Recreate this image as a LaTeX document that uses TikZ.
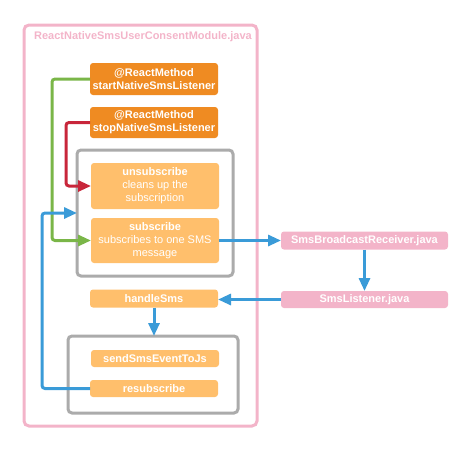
\documentclass[tikz,border=0pt]{standalone}
\usepackage{fontspec}
\setmainfont{Liberation Sans}
\usepackage{tikz}
\usetikzlibrary{arrows.meta}
\definecolor{darkorange}{HTML}{EF8B22}
\definecolor{lightorange}{HTML}{FFBF6C}
\definecolor{softpink}{HTML}{F3B4C9}
\definecolor{groupgray}{HTML}{ABABAB}
\definecolor{lineblue}{HTML}{3A9BD8}
\definecolor{linegreen}{HTML}{7AB648}
\definecolor{linered}{HTML}{C8263A}

\begin{document}
\begin{tikzpicture}[
x=1pt, y=-1pt,
font=\fontsize{11}{13}\selectfont,
     M/.style = {rectangle, rounded corners=3pt, fill=darkorange,% method boxes
                 text=white, font=\fontsize{11}{13}\selectfont\bfseries,
                 align=center, inner sep=0pt, outer sep=0pt,
                 minimum width=128pt, minimum height=32pt},
     S/.style = {rectangle, rounded corners=3pt, fill=lightorange,% inner steps
                 text=white, align=center, inner sep=0pt, outer sep=0pt,
                 minimum width=128pt},
     P/.style = {rectangle, rounded corners=3pt, fill=softpink,% other java files
                 text=white, font=\fontsize{11}{13}\selectfont\bfseries,
                 inner sep=0pt, outer sep=0pt,
                 minimum width=167pt, minimum height=18pt},
     G/.style = {rectangle, rounded corners=4pt, draw=groupgray,% groups
                 line width=3pt, inner sep=0pt, outer sep=0pt},
     C/.style = {line width=3pt, rounded corners=3pt,% connectors
                 -{Triangle[length=13pt,width=11pt]}},
                        ]
\useasboundingbox (0,0) rectangle (474,451);
% module frame
\node[rectangle, rounded corners=5pt, draw=softpink, line width=3pt,
      inner sep=0pt, outer sep=0pt,
      minimum width=233pt, minimum height=401pt] (module) at (140.5,225.5) {};
\node[text=softpink, font=\fontsize{11}{13}\selectfont\bfseries] (title) at (143,37)
     {ReactNativeSmsUserConsentModule.java};
% methods
\node[M] (start) at (154,79) {@ReactMethod\\startNativeSmsListener};
\node[M, minimum height=31pt] (stop) at (154,122.5) {@ReactMethod\\stopNativeSmsListener};
% listener group
\node[G, minimum width=156pt, minimum height=126pt] (listen) at (155,213) {};
\node[S, minimum height=46pt] (unsub) at (155,186)
     {\textbf{unsubscribe}\\cleans up the\\subscription};
\node[S, minimum height=45pt] (sub) at (155,240.5)
     {\textbf{subscribe}\\subscribes to one SMS\\message};
\node[S, minimum height=18pt, font=\fontsize{11}{13}\selectfont\bfseries] (handle) at (154,298.5) {handleSms};
% handler group
\node[G, minimum width=170pt, minimum height=77pt] (react) at (153,374.5) {};
\node[S, minimum height=17pt, font=\fontsize{11}{13}\selectfont\bfseries] (send) at (155,358.5) {sendSmsEventToJs};
\node[S, minimum height=17pt, font=\fontsize{11}{13}\selectfont\bfseries] (resub) at (154,388.5) {resubscribe};
% java files
\node[P] (receiver) at (364.5,240.5) {SmsBroadcastReceiver.java};
\node[P, minimum height=17pt] (listener) at (364.5,299.5) {SmsListener.java};
% connectors
\draw[C, linegreen] (start.west) -- ++(-38,0) |- (sub.west);
\draw[C, linered] (stop.west) -- ++(-24,0) |- (unsub.west);
\draw[C, lineblue] (resub.west) -- ++(-48,0) |- (listen.west);
\draw[C, lineblue] (sub.east) -- (receiver.west);
\draw[C, lineblue] (receiver.south) -- (listener.north);
\draw[C, lineblue] (listener.west) -- (listener.west -| handle.east);
\draw[C, lineblue] (handle.south) -- (handle.south |- react.north);
\end{tikzpicture}
\end{document}
